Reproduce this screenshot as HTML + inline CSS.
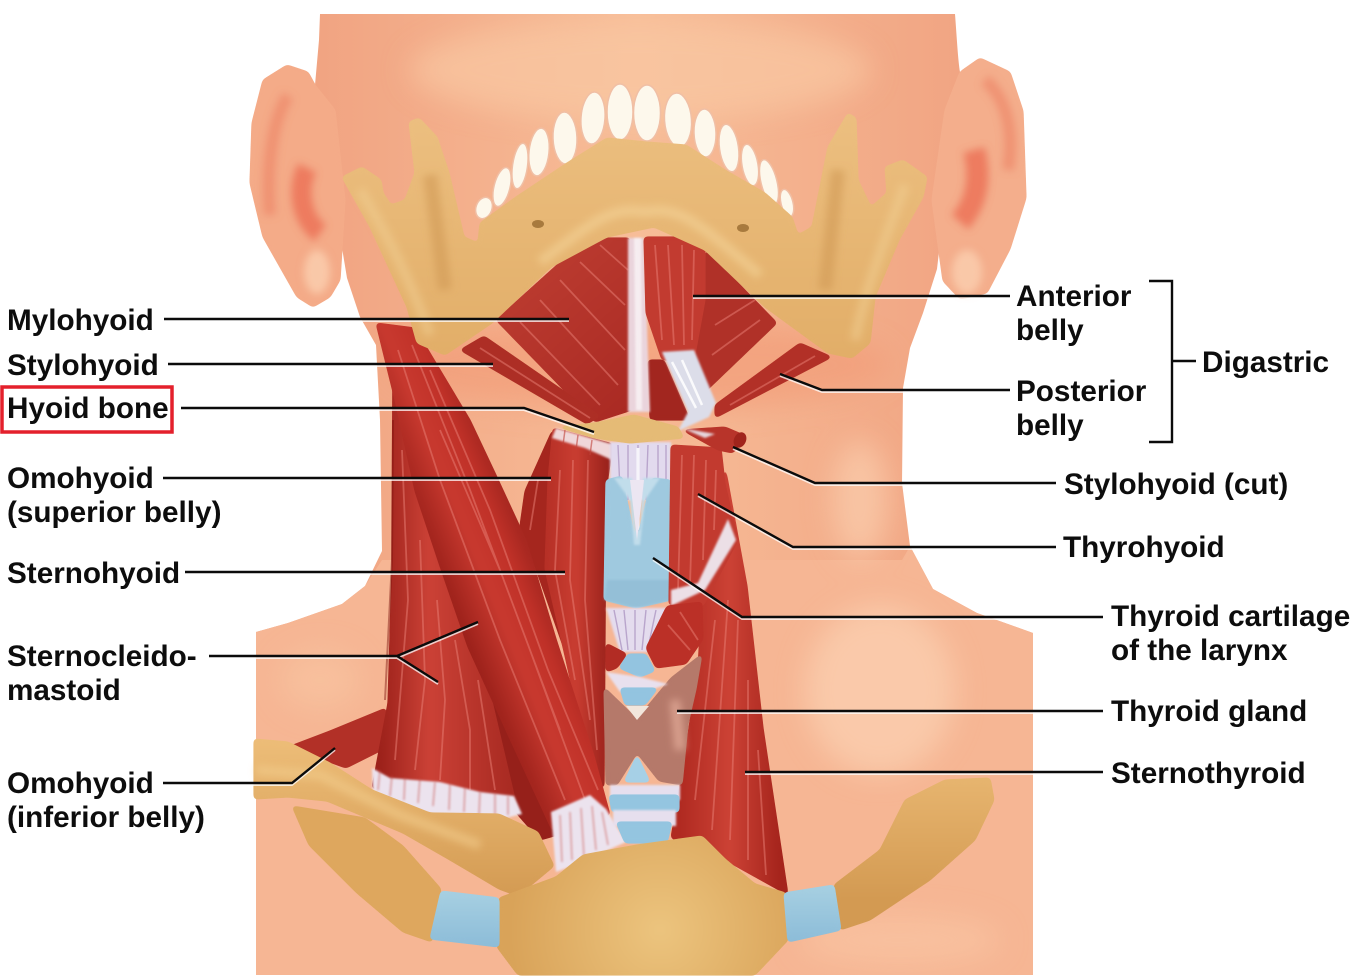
<!DOCTYPE html>
<html><head><meta charset="utf-8"><style>
html,body{margin:0;padding:0;background:#fff}
svg{display:block}
text{font-family:"Liberation Sans",sans-serif;font-weight:bold;font-size:29.7px;fill:#0d0d0d}
.s{filter:url(#s)}
.b1{filter:url(#b1)}
.b4{filter:url(#b4)}
.b10{filter:url(#b10)}
.fl{fill:none;stroke:#ea8076;stroke-width:1.8;opacity:.5}
.fd{fill:none;stroke:#7c120e;stroke-width:2;opacity:.45}
.wf{fill:none;stroke:#fff;stroke-width:3;opacity:.85}
.rf{fill:none;stroke:#b9a5cc;stroke-width:1.4}
.l{fill:none;stroke:#0b0b0b;stroke-width:2.4}
.h{fill:none;stroke:#fff;stroke-width:2;opacity:.75}
</style></head><body>
<svg width="1357" height="980" viewBox="0 0 1357 980" xmlns="http://www.w3.org/2000/svg">
<defs>
<filter id="s" filterUnits="userSpaceOnUse" x="0" y="0" width="1357" height="980" color-interpolation-filters="sRGB">
<feGaussianBlur stdDeviation="2.2"/><feColorMatrix type="matrix" values="1 0 0 0 0 0 1 0 0 0 0 0 1 0 0 0 0 0 12 -4.2"/>
</filter>
<filter id="b1" filterUnits="userSpaceOnUse" x="0" y="0" width="1357" height="980"><feGaussianBlur stdDeviation="1"/></filter>
<filter id="b4" filterUnits="userSpaceOnUse" x="0" y="0" width="1357" height="980"><feGaussianBlur stdDeviation="4"/></filter>
<filter id="b10" filterUnits="userSpaceOnUse" x="0" y="14" width="1357" height="961"><feGaussianBlur stdDeviation="14"/></filter>
<clipPath id="skinclip"><path d="M320 14H955C957 40 958 60 960 72L937 269L923 313L910 348L903 388L902 483L910 546L933 589L977 613L1033 633V975H256V632L288 623L342 604L365 586L382 551L380 420L376 345L360 317L347 278L315 85L319 40Z"/></clipPath>
<linearGradient id="head" gradientUnits="userSpaceOnUse" x1="320" y1="0" x2="955" y2="0"><stop offset="0" stop-color="#f1a482"/><stop offset=".5" stop-color="#f7bd98"/><stop offset="1" stop-color="#f1a583"/></linearGradient>
<linearGradient id="m1" gradientUnits="userSpaceOnUse" x1="445" y1="620" x2="555" y2="575"><stop offset="0" stop-color="#8f1a14"/><stop offset=".45" stop-color="#c8392f"/><stop offset=".7" stop-color="#c03128"/><stop offset="1" stop-color="#94201a"/></linearGradient>
<linearGradient id="m2" gradientUnits="userSpaceOnUse" x1="380" y1="0" x2="520" y2="0"><stop offset="0" stop-color="#9c211a"/><stop offset=".35" stop-color="#cb4136"/><stop offset="1" stop-color="#a52820"/></linearGradient>
<linearGradient id="m3" gradientUnits="userSpaceOnUse" x1="525" y1="0" x2="610" y2="0"><stop offset="0" stop-color="#a8261e"/><stop offset=".6" stop-color="#c93d31"/><stop offset="1" stop-color="#97201a"/></linearGradient>
<linearGradient id="m4" gradientUnits="userSpaceOnUse" x1="680" y1="0" x2="780" y2="0"><stop offset="0" stop-color="#b02a21"/><stop offset=".5" stop-color="#cc4235"/><stop offset="1" stop-color="#a5241c"/></linearGradient>
<linearGradient id="m5" gradientUnits="userSpaceOnUse" x1="500" y1="240" x2="640" y2="400"><stop offset="0" stop-color="#bf3f33"/><stop offset="1" stop-color="#aa2a23"/></linearGradient>
<linearGradient id="bn" x1="0" y1="0" x2="0" y2="1"><stop offset="0" stop-color="#ecbf80"/><stop offset="1" stop-color="#e2ae68"/></linearGradient>
<linearGradient id="cl" gradientUnits="userSpaceOnUse" x1="0" y1="740" x2="0" y2="900"><stop offset="0" stop-color="#edbd78"/><stop offset="1" stop-color="#d39a52"/></linearGradient>
<radialGradient id="st" gradientUnits="userSpaceOnUse" cx="660" cy="930" r="150"><stop offset="0" stop-color="#ecc47e"/><stop offset="1" stop-color="#d9a359"/></radialGradient>
<linearGradient id="bl" x1="0" y1="0" x2="0" y2="1"><stop offset="0" stop-color="#a7d0e2"/><stop offset="1" stop-color="#8cbcd8"/></linearGradient>
</defs>
<rect width="1357" height="980" fill="#fff"/>

<!-- skin -->
<path d="M320 14H955C957 40 958 60 960 72L937 269L923 313L910 348L903 388L902 483L910 546L933 589L977 613L1033 633V975H256V632L288 623L342 604L365 586L382 551L380 420L376 345L360 317L347 278L315 85L319 40Z" fill="url(#head)"/>
<path d="M256 632L288 623L342 604L365 586L382 560H902L910 546L933 589L977 613L1033 633V975H256Z" fill="#f6b694"/>
<g clip-path="url(#skinclip)"><g class="b10">
<ellipse cx="640" cy="70" rx="230" ry="50" fill="#f9c7a3" opacity=".7"/>
<ellipse cx="860" cy="500" rx="28" ry="60" fill="#fbcfae" opacity=".7"/>
<ellipse cx="880" cy="690" rx="75" ry="85" fill="#fcd4b6" opacity=".65"/>
<ellipse cx="900" cy="940" rx="100" ry="25" fill="#f9c5a3" opacity=".7"/>
<ellipse cx="320" cy="680" rx="40" ry="30" fill="#f8c3a0" opacity=".7"/>
<ellipse cx="640" cy="365" rx="250" ry="45" fill="#f29d79" opacity=".7"/>
</g></g>
<!-- ears -->
<path class="s" d="M315 85L308 72L287 65L263 80L252 123L250 183L263 237L297 297L313 307L330 297L340 280L345 200L335 110Z" fill="#f4ab88"/>
<path class="s" d="M960 72L980 58L1010 72L1023 111L1026 198L1010 249L987 293L960 299L943 281L932 200L945 110Z" fill="#f4ae8c"/>
<g class="b4">
<path d="M288 96C272 120 266 170 270 215" fill="none" stroke="#ee8a6b" stroke-width="12" opacity=".75"/>
<path d="M307 168C296 190 302 220 320 233" fill="none" stroke="#ec7358" stroke-width="20" opacity=".85"/>
<ellipse cx="317" cy="272" rx="13" ry="22" fill="#f9c8a8"/>
<path d="M985 80C1008 100 1014 135 1008 170" fill="none" stroke="#ee8a6b" stroke-width="12" opacity=".75"/>
<path d="M974 150C982 180 975 205 960 222" fill="none" stroke="#ec7358" stroke-width="22" opacity=".85"/>
<ellipse cx="967" cy="272" rx="15" ry="22" fill="#f9c8a8"/>
</g>

<!-- omohyoid inferior -->
<path class="s" d="M386 708L330 731L288 747L346 768L386 748Z" fill="#b23027"/>
<!-- sternothyroid right -->
<path class="s" d="M725 466L747 586L763 728L788 895L725 860L671 838L682 774L698 668L702 600Z" fill="url(#m4)"/>
<path class="fl" d="M715 620L695 800M728 600L712 830M738 620L730 840M748 680L748 860M758 750L766 875"/>
<!-- deep red behind SCM bottom -->
<path class="s" d="M480 650L540 700L575 830L540 840L505 800Z" fill="#96201a"/>
<!-- clavicular SCM -->
<path class="s" d="M393 340L420 345L441 560L480 650L518 812L440 805L372 788L388 703L392 569Z" fill="url(#m2)"/>
<path class="fl" d="M402 450L408 600L395 760M420 540L425 680L415 770M437 600L445 700L440 780M455 640L470 730L470 790M478 680L495 790"/>
<path class="fd" d="M393 420L392 560L385 700"/>
<path class="b1" d="M372 768L390 778L440 782L480 792L514 796L522 814L490 822L430 816L373 795Z" fill="#ece3ee"/>
<path class="b1" d="M380 770L378 790M392 775L390 796M405 777L404 800M420 778L418 803M435 782L433 806M450 783L449 810M465 787L464 812M480 792L479 815M495 793L495 815M508 796L508 815" stroke="#c0433a" stroke-width="1.6" opacity=".45"/>

<!-- omohyoid sup + sternohyoid -->
<path class="s" d="M552 431L525 491L520 526L541 583L575 680L600 760L596 560L590 440Z" fill="#a5261e"/>
<path class="s" d="M553 428L613 444L606 491L604 790L590 770L566 660L545 569L548 480Z" fill="url(#m3)"/>
<path class="fl" d="M560 470L555 570L575 680M573 460L570 580L590 720M588 460L585 600L597 750M538 480L530 530"/>
<path class="b1" d="M556 428L612 444L612 460L585 448L552 438Z" fill="#f0d7d9"/>
<path d="M565 430L563 445M578 435L576 450M592 440L590 455" stroke="#c0433a" stroke-width="1.5" opacity=".6"/>

<!-- sternal SCM -->
<path class="s" d="M376 323L415 328L470 420L495 473L526 540L556 639L594 756L610 815L552 830L510 739L468 647L441 569L415 491L395 400Z" fill="url(#m1)"/>
<path class="fl" d="M398 350L440 480L500 640L565 800M412 345L470 490L530 650L585 800M430 370L490 510L548 670L598 790M440 430L500 570L560 730"/>
<path class="b1" d="M551 812L590 795L606 809L626 842L572 866L556 872Z" fill="#ece3ee"/>
<path class="b1" d="M560 815L562 862M570 812L572 860M581 808L584 856M592 806L596 850M602 812L608 845" stroke="#c64a42" stroke-width="1.6" opacity=".45"/>

<!-- lilac top -->
<path class="b1" d="M610 442H671V500H610Z" fill="#e2daee"/>
<path class="rf" d="M618 445L620 490M628 445L628 500M638 445L638 540M648 445L646 500M658 445L658 490M666 445L666 482"/>
<path class="wf" d="M638 448L638 530"/>
<!-- thyroid cartilage -->
<path class="s" d="M606 480L622 476L636 544L652 478L671 480L671 600L636 608L604 600Z" fill="#9fc9df"/>
<path class="b1" d="M614 478H632L636 530L640 530L643 478H660L645 500L640 545L634 545L630 500Z" fill="#c1ddeb"/>
<path d="M630 480H644L637 540Z" fill="#ece6f2"/>
<path class="b1" d="M607 580H671V600L636 608L604 600Z" fill="#8dbad3" opacity=".6"/>
<!-- thyrohyoid -->
<path class="s" d="M671 445L721 448L725 484L738 540L703 606L669 605Z" fill="#c23a2f"/>
<path class="fl" d="M682 455L678 590M694 455L690 585M706 460L703 560M716 470L714 530"/>
<path class="b1" d="M728 519L736 540L705 590L671 606L671 590L698 583Z" fill="#ecdfe6"/>
<!-- lilac mid -->
<path class="b1" d="M606 608H668L648 652H620Z" fill="#e4dcee"/>
<path class="rf" d="M614 610L622 650M624 610L628 650M635 610L635 650M646 610L642 650M656 610L648 648"/>
<path class="s" d="M667 606L702 602L703 639L686 664L656 668L646 648Z" fill="#bb3027"/>
<path class="fl" d="M668 625L690 650M680 612L698 640"/>
<path class="s" d="M606 643L627 654L617 668L606 672Z" fill="#b22c24"/>
<!-- thyroid gland -->
<path class="s" d="M604 687L637 719L671 678L702 654L696 689L688 724L682 785L659 781L637 753L617 785L606 785Z" fill="#b5796a"/>
<path class="b4" d="M675 700L680 750" fill="none" stroke="#d9a08e" stroke-width="10"/>
<!-- cricoid -->
<path class="s" d="M619 668L628 654H646L655 671L640 677Z" fill="#93c4e0"/>
<path class="b1" d="M606 672L640 677L668 684L645 692H620Z" fill="#e8e0ee"/>
<path class="s" d="M620 688H658L645 705L625 705Z" fill="#93c4e0"/>
<path d="M626 706L649 706L637 720Z" fill="#f2e6dc"/>
<!-- lower trachea -->
<path class="s" d="M637 755L650 782H624Z" fill="#a6d0e6"/>
<path class="b1" d="M610 785H680V800H610Z" fill="#e6dfee"/>
<path class="s" d="M609 795H679V812H612Z" fill="#94c5e0"/>
<path class="b1" d="M613 810H676V826H613Z" fill="#e6dfee"/>
<path class="s" d="M616 822H672L667 843H625Z" fill="#94c5e0"/>

<!-- mylohyoid -->
<path class="s" d="M630 238H587L496 320L595 422L632 410Z" fill="url(#m5)"/>
<path class="fl" d="M520 322L600 405M540 300L618 385M560 280L625 350M580 262L625 305M600 245L628 270"/>
<path class="s" d="M706 250L777 323L705 392L690 360Z" fill="#b03128"/>
<path class="fl" d="M715 325L755 300M712 355L760 320"/>
<path class="s" d="M648 360L664 360L690 420L650 420Z" fill="#a2261f"/>
<path class="b1" d="M628 238H644L650 412H628Z" fill="#ead4dc"/>
<path class="b1" d="M634 238H641L642 410H636Z" fill="#fff" opacity=".6"/>
<!-- anterior belly -->
<path class="s" d="M644 237H705V300L694 360L662 360L646 313Z" fill="#c23b30"/>
<path class="fl" d="M655 245L662 340M668 245L674 345M682 245L684 345M694 250L692 340"/>
<path class="b1" d="M662 352L694 350L716 403L709 417L678 431L688 412Z" fill="#dcdde9"/>
<path class="wf" d="M672 362L696 408M682 360L702 405" style="stroke-width:2.5"/>
<!-- posterior bellies -->
<path class="s" d="M484 336L600 416L587 424L460 350Z" fill="#ad2e25"/>
<path class="fl" d="M480 348L590 418"/>
<path class="s" d="M800 343L832 357L715 418L715 405Z" fill="#b23027"/>
<path class="fl" d="M730 405L815 356"/>
<!-- stylohyoid cut -->
<path class="s" d="M682 430L725 427L746 436L733 453L718 450Z" fill="#b8342a"/>
<ellipse cx="740" cy="440" rx="6" ry="8" fill="#a0241c" transform="rotate(25 740 440)"/>
<path class="b1" d="M682 428L715 434L705 438Z" fill="#e6d5dc"/>
<!-- hyoid -->
<path class="s" d="M557 427L595 423L634 415L678 427L684 438L630 443L595 438Z" fill="#e5bb76"/>

<!-- teeth -->
<g fill="#fdf8ec" stroke="#f0bfa5" stroke-width="1.5">
<ellipse cx="484" cy="208" rx="8" ry="11" transform="rotate(20 484 208)"/>
<ellipse cx="502" cy="187" rx="8" ry="20" transform="rotate(14 502 187)"/>
<ellipse cx="520" cy="166" rx="7.5" ry="23" transform="rotate(8 520 166)"/>
<ellipse cx="539" cy="152" rx="10" ry="24" transform="rotate(6 539 152)"/>
<ellipse cx="565" cy="138" rx="12" ry="26" transform="rotate(-2 565 138)"/>
<ellipse cx="593" cy="118" rx="12" ry="26" transform="rotate(4 593 118)"/>
<ellipse cx="620" cy="112" rx="13" ry="28"/>
<ellipse cx="647" cy="113" rx="13.5" ry="28"/>
<ellipse cx="678" cy="120" rx="13.5" ry="27" transform="rotate(-4 678 120)"/>
<ellipse cx="705" cy="133" rx="11" ry="24" transform="rotate(-2 705 133)"/>
<ellipse cx="729" cy="148" rx="9.5" ry="24" transform="rotate(-8 729 148)"/>
<ellipse cx="750" cy="165" rx="8" ry="21" transform="rotate(-10 750 165)"/>
<ellipse cx="769" cy="182" rx="8" ry="23" transform="rotate(-14 769 182)"/>
<ellipse cx="787" cy="203" rx="6" ry="14" transform="rotate(-14 787 203)"/>
</g>
<!-- mandible -->
<path class="s" d="M342 177L362 167L381 180L383 193L391 205L405 200L415 173L409 122L419 118L437 137L449 173L464 237L478 243L480 223L516 197L567 163L607 138L646 142L686 145L725 170L765 193L792 217L798 235L812 227L828 147L848 113L856 118L858 180L871 207L887 193L885 167L903 160L927 177L923 197L899 240L875 297L870 343L852 358L828 353L765 307L705 250L654 227L607 237L551 267L492 323L445 355L417 343L407 307L370 227Z" fill="url(#bn)"/>
<g class="b4" fill="none">
<path d="M540 262C590 225 610 205 645 212C680 205 700 225 760 275" stroke="#f3d498" stroke-width="10" opacity=".6"/>
<path d="M360 190C390 240 410 280 430 335M905 185C885 240 865 290 855 340" stroke="#f0cd92" stroke-width="10" opacity=".55"/>
<path d="M430 175L445 290M838 170L825 290" stroke="#d09a55" stroke-width="14" opacity=".6"/>
</g>
<ellipse cx="538" cy="224" rx="6" ry="4" fill="#a87a3e"/><ellipse cx="743" cy="228" rx="6" ry="4" fill="#a87a3e"/>

<!-- clavicles / rib / sternum -->
<path class="s" d="M292 806L365 818L403 846L441 889L432 942L403 932L357 893L309 845Z" fill="#dea75e"/>
<path class="s" d="M254 739L288 742L330 763L372 790L430 813L499 814L538 832L554 866L518 896L499 889L450 860L403 833L327 801L288 797L254 799Z" fill="url(#cl)"/>
<path class="b4" d="M256 770L320 775L400 815L480 845" fill="none" stroke="#f2cc8c" stroke-width="10" opacity=".6"/>
<path class="s" d="M834 885L880 850L905 800L945 780L990 778L994 800L975 840L930 880L870 920L840 930Z" fill="url(#cl)"/>
<path class="s" d="M499 898L556 877L583 855L637 845L702 836L725 859L755 884L786 893L788 940L755 975H518L497 947Z" fill="url(#st)"/>
<path class="s" d="M441 891L499 898L499 947L430 939Z" fill="url(#bl)"/>
<path class="s" d="M784 893L834 885L841 930L788 942Z" fill="url(#bl)"/>

<!-- leader lines halo -->
<path class="h" transform="translate(0,2)" d="M164 319H569M168 364H493M181 408H524L594 432M163 478H551M185 572H565M209 656H397L478 622M397 656L438 682M163 783H292L335 748"/>
<path class="h" transform="translate(0,2)" d="M1010 296H693M1010 390H822L780 374M1056 483H815L733 447M1056 547H793L698 494M1103 617H742L653 558M1103 711H677M1103 772H745"/>
<!-- leader lines -->
<path class="l" d="M164 319H569M168 364H493M181 408H524L594 432M163 478H551M185 572H565M209 656H397L478 622M397 656L438 682M163 783H292L335 748"/>
<path class="l" d="M1010 296H693M1010 390H822L780 374M1056 483H815L733 447M1056 547H793L698 494M1103 617H742L653 558M1103 711H677M1103 772H745"/>
<path class="l" d="M1149 281H1172V442H1149M1172 361H1196"/>
<!-- red box -->
<rect x="2" y="387" width="170" height="45" fill="none" stroke="#e4202c" stroke-width="3.5"/>
<!-- labels -->
<text x="7" y="330">Mylohyoid</text>
<text x="7" y="375">Stylohyoid</text>
<text x="7" y="418">Hyoid bone</text>
<text x="7" y="488">Omohyoid</text>
<text x="7" y="522">(superior belly)</text>
<text x="7" y="583">Sternohyoid</text>
<text x="7" y="666">Sternocleido-</text>
<text x="7" y="700">mastoid</text>
<text x="7" y="793">Omohyoid</text>
<text x="7" y="827">(inferior belly)</text>
<text x="1016" y="306">Anterior</text>
<text x="1016" y="340">belly</text>
<text x="1016" y="401">Posterior</text>
<text x="1016" y="435">belly</text>
<text x="1202" y="372">Digastric</text>
<text x="1064" y="494">Stylohyoid (cut)</text>
<text x="1063" y="557">Thyrohyoid</text>
<text x="1111" y="626">Thyroid cartilage</text>
<text x="1111" y="660">of the larynx</text>
<text x="1111" y="721">Thyroid gland</text>
<text x="1111" y="783">Sternothyroid</text>
</svg>
</body></html>
